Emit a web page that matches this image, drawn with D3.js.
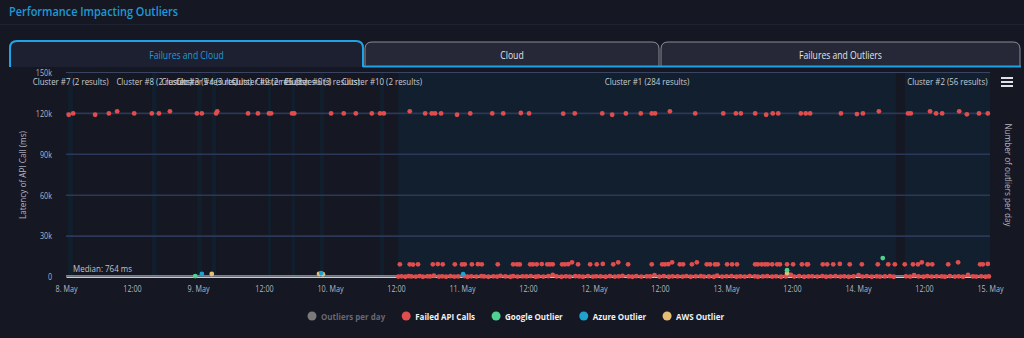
<!DOCTYPE html>
<html>
<head>
<meta charset="utf-8">
<script src="https://cdn.jsdelivr.net/npm/d3@7"></script>
<style>
  body { margin: 0; background: #151722; font-family: "Open Sans", sans-serif; }
  svg { display: block; }
</style>
</head>
<body>
<svg id="chart" width="1024" height="338"></svg>
<script>
'use strict'
// ---- data (hours since 8 May 00:00 UTC, values in ms) ----
var tabNames = ['Failures and Cloud', 'Cloud', 'Failures and Outliers']
var yTicks = [0, 30000, 60000, 90000, 120000, 150000]
var median = 764

var clusterLabels = ['Cluster #7 (2 results)', 'Cluster #8 (2 results)', 'Cluster #3 (5 results)',
  'Cluster #4 (3 results)', 'Cluster #9 (2 results)', 'Cluster #5 (3 results)', 'Cluster #6 (3 results)',
  'Cluster #10 (2 results)', 'Cluster #1 (284 results)', 'Cluster #2 (56 results)']
var clusterFrom = [0.4, 15.6, 23.8, 26.5, 36.7, 41.1, 46.2, 57.1, 60.4, 152.5]
var clusterTo = [1.3, 16.5, 24.7, 27.3, 37.3, 41.6, 46.9, 57.8, 150.9, 168]

var failedTopHours = [0.5, 1.3, 5.3, 7.8, 9.3, 12.4, 15.6, 16.9, 18.9, 23.8, 24.7, 27.3, 27.5, 33.1, 34.9, 36.9,
  37.3, 41.1, 41.5, 48.2, 50.5, 52.7, 55.6, 57.1, 57.8, 62.5, 65.3, 66.5, 67.1, 68.2, 71.1, 73.5, 77.5, 79.5,
  82.7, 84.2, 90.4, 92.5, 97.5, 99.3, 101.8, 104.5, 106.5, 107.1, 109.8, 114.4, 119.5, 121.8, 122.7, 125.3,
  127.3, 128.5, 129.5, 133.6, 134.5, 135.3, 140.9, 143.8, 144.9, 147.8, 153.1, 153.6, 157.1, 158.2, 159.3,
  162.4, 163.8, 166.0, 167.6]
var failedTopValues = [119000, 120000, 119000, 120000, 121500, 120000, 120000, 120000, 121500, 120000, 120000,
  120000, 121500, 120000, 120000, 120000, 120000, 120000, 120000, 120000, 120000, 120000, 120000, 120000, 120000,
  121500, 120000, 120000, 120000, 120000, 119000, 120000, 120000, 120000, 120300, 120000, 119800, 120000,
  120000, 119000, 120000, 120000, 120000, 120000, 121500, 120000, 120000, 120000, 120000, 120000, 119000,
  120000, 120000, 120000, 120000, 120000, 120000, 119500, 120000, 121500, 120000, 120000, 121500, 120000,
  120000, 121500, 119300, 120000, 120000]

var failedMidHours = [60.7, 62.5, 63.1, 64.0, 66.7, 67.6, 68.5, 70.7, 72.0, 72.5, 73.8, 74.9, 75.6, 78.5, 81.3,
  82.0, 82.5, 84.4, 84.9, 85.6, 86.5, 87.5, 88.0, 88.5, 90.2, 90.7, 91.3, 92.0, 93.1, 95.3, 96.5, 97.6, 99.5,
  100.4, 102.2, 106.5, 108.4, 108.9, 109.5, 110.2, 111.6, 112.2, 113.8, 114.7, 116.5, 117.1, 118.0, 118.5,
  120.2, 121.1, 122.0, 125.3, 125.8, 126.5, 127.1, 127.6, 128.4, 129.3, 129.8, 131.1, 132.2, 133.8, 134.7,
  134.9, 137.6, 138.4, 139.5, 140.7, 142.5, 144.7, 147.6, 149.5, 150.7, 152.5, 154.0, 154.9, 155.6, 156.7,
  157.5, 160.4, 162.2, 166.2, 166.7, 167.6]
var failedMidValues = [9300, 9300, 9100, 9300, 9300, 9500, 9300, 9300, 9200, 9300, 9300, 9400, 9300, 9300, 9300,
  9300, 9200, 9300, 9300, 9300, 9500, 9300, 9300, 9300, 9300, 9300, 9400, 10800, 9300, 9300, 9300, 9600, 9300,
  10800, 9300, 9300, 9300, 9300, 9400, 10800, 9300, 9300, 9300, 10800, 9300, 9300, 9200, 9300, 9300, 9300,
  9300, 9300, 9300, 9300, 9300, 9300, 9300, 9300, 9300, 9300, 9300, 9300, 9300, 9300, 9300, 9300, 9300, 9600,
  9300, 9300, 9300, 9300, 9300, 9300, 9300, 9300, 10800, 9300, 9300, 9300, 10800, 9300, 9300, 9600]

var failedLowHours = [60.4, 61.0, 61.7, 62.3, 62.8, 63.6, 64.3, 64.9, 65.7, 66.2, 66.9, 67.8, 68.4, 69.1, 69.9,
  70.6, 71.3, 72.4, 73.0, 73.7, 74.6, 75.5, 76.0, 76.8, 77.7, 78.4, 79.0, 79.9, 80.8, 81.3, 82.1, 83.0, 83.7,
  84.5, 85.4, 85.9, 86.8, 87.7, 88.5, 89.2, 90.1, 90.9, 91.6, 92.6, 93.3, 94.0, 94.9, 95.8, 96.4, 97.2, 98.1,
  98.9, 99.8, 100.5, 101.2, 102.3, 103.0, 103.7, 104.6, 105.6, 106.2, 107.0, 107.9, 108.7, 109.6, 110.3, 111.2,
  112.1, 112.8, 113.6, 114.5, 115.4, 116.0, 116.9, 117.8, 118.4, 119.3, 120.1, 121.0, 121.9, 122.6, 123.4,
  124.3, 125.2, 125.8, 126.7, 127.5, 128.4, 129.1, 130.0, 130.9, 131.8, 132.4, 133.3, 134.2, 135.0, 135.7,
  136.6, 137.5, 138.2, 139.0, 139.9, 140.8, 141.5, 142.3, 143.2, 144.1, 144.8, 145.6, 146.5, 147.4, 148.0,
  148.9, 149.8, 150.5, 152.7, 153.5, 154.2, 155.0, 155.9, 156.6, 157.4, 158.3, 159.2, 159.8, 160.7, 161.6,
  162.3, 163.1, 164.0, 164.9, 165.5, 166.4, 167.2, 167.8]
var failedLowValues = [300, 500, 200, 600, 400, 300, 700, 200, 500, 400, 900, 300, 500, 200, 600, 300, 400, 700,
  200, 500, 300, 600, 400, 200, 500, 300, 800, 400, 200, 600, 300, 500, 400, 700, 200, 500, 300, 600, 1500, 400,
  200, 500, 300, 600, 400, 200, 700, 300, 500, 400, 200, 600, 300, 500, 800, 400, 200, 600, 300, 500, 400, 1400,
  300, 600, 200, 500, 400, 300, 700, 200, 500, 600, 300, 400, 200, 900, 300, 500, 600, 200, 400, 300, 700, 500,
  200, 400, 600, 300, 500, 200, 400, 1500, 300, 600, 200, 400, 500, 300, 700, 200, 400, 600, 300, 500, 200, 400,
  1400, 300, 600, 200, 500, 300, 400, 600, 200, 500, 300, 1300, 400, 200, 600, 300, 500, 400, 200, 700, 300,
  500, 200, 1500, 400, 300, 500, 200, 400]

var googleHours = [23.5, 131.1, 148.5]
var googleValues = [700, 5000, 13900]
var azureHours = [24.7, 46.4, 72.2]
var azureValues = [2200, 2900, 2000]
var awsHours = [26.5, 46.0, 46.7, 131.1]
var awsValues = [2200, 2200, 2000, 2900]

var legendNames = ['Outliers per day', 'Failed API Calls', 'Google Outlier', 'Azure Outlier', 'AWS Outlier']
var legendColors = ['#7a7a7a', '#e04d4d', '#4fd18f', '#1ea3cf', '#e6c072']

// ---- layout ----
var W = 1024
var H = 338
var plot = { left: 66, right: 990, top: 72.5, bottom: 277 }
var base = Date.UTC(2023, 4, 8)
var toDate = function (h) { return new Date(base + h * 3600e3) }

var svg = d3.select('#chart')

// squeeze text horizontally (reference fonts are narrow)
var squeeze = function (sel, k) {
  sel.each(function () {
    var w = this.getComputedTextLength()
    this.setAttribute('textLength', w * k)
    this.setAttribute('lengthAdjust', 'spacingAndGlyphs')
  })
}

svg.append('rect').attr('width', W).attr('height', H).attr('fill', '#151722')

// header
var title = svg.append('text')
  .attr('x', 9).attr('y', 16)
  .attr('fill', '#1e9ad6')
  .attr('font-size', 12).attr('font-weight', 600)
  .text('Performance Impacting Outliers')
squeeze(title, 0.91)
svg.append('rect').attr('x', 0).attr('y', 24).attr('width', W).attr('height', 1).attr('fill', '#1f2230')

// tabs
var tabX = [10, 365, 661]
var tabW = [353, 294, 359]
var tabY = 41
var tabH = 26
var tabPath = function (x, y, w, h, r) {
  return 'M' + x + ',' + (y + h) + 'V' + (y + r) + 'Q' + x + ',' + y + ' ' + (x + r) + ',' + y +
    'H' + (x + w - r) + 'Q' + (x + w) + ',' + y + ' ' + (x + w) + ',' + (y + r) + 'V' + (y + h)
}
tabNames.forEach(function (name, i) {
  var active = i === 0
  svg.append('path')
    .attr('d', tabPath(tabX[i], active ? tabY : tabY + 1, tabW[i], active ? tabH : tabH - 1, 7))
    .attr('fill', active ? '#1d2030' : '#262837')
    .attr('stroke', active ? '#1ea3e6' : '#8a8c96')
    .attr('stroke-width', active ? 2 : 1)
  var t = svg.append('text')
    .attr('x', tabX[i] + tabW[i] / 2).attr('y', 58.5)
    .attr('text-anchor', 'middle')
    .attr('font-size', 10)
    .attr('fill', active ? '#1e9ad6' : '#e2e2e6')
    .text(name)
  squeeze(t, 0.86)
})
svg.append('line')
  .attr('x1', 363).attr('x2', 1021).attr('y1', 66.5).attr('y2', 66.5)
  .attr('stroke', '#1ea3e6').attr('stroke-width', 2)

// scales
var x = d3.scaleUtc().domain([toDate(0), toDate(168)]).range([plot.left, plot.right])
var y = d3.scaleLinear().domain([0, 150000]).range([plot.bottom, plot.top])

// cluster bands
var bands = svg.append('g')
clusterLabels.forEach(function (label, i) {
  var x0 = x(toDate(clusterFrom[i]))
  var x1 = x(toDate(clusterTo[i]))
  bands.append('rect')
    .attr('x', x0).attr('y', plot.top).attr('width', x1 - x0).attr('height', plot.bottom - plot.top)
    .attr('fill', '#11202f').attr('opacity', i >= 8 ? 0.95 : 0.9)
})

// gridlines
svg.append('g').selectAll('line')
  .data(yTicks.filter(function (d) { return d > 0 }))
  .enter().append('line')
  .attr('x1', plot.left).attr('x2', plot.right)
  .attr('y1', function (d) { return y(d) }).attr('y2', function (d) { return y(d) })
  .attr('stroke', function (d) { return d === 150000 ? '#3b4463' : '#2c3858' })
  .attr('stroke-width', function (d) { return d === 150000 ? 1 : 1.6 })

// cluster labels
clusterLabels.forEach(function (label, i) {
  var cx = x(toDate((clusterFrom[i] + clusterTo[i]) / 2))
  var t = svg.append('text')
    .attr('x', cx).attr('y', 85)
    .attr('text-anchor', 'middle')
    .attr('font-size', 9.5)
    .attr('fill', '#c9cbd2')
    .text(label)
  squeeze(t, 0.83)
})

// y axis
var yAxis = svg.append('g')
  .attr('transform', 'translate(' + (plot.left - 11) + ',0)')
  .call(d3.axisLeft(y).tickValues(yTicks).tickSize(0)
    .tickFormat(function (d) { return d ? d / 1000 + 'k' : '0' }))
yAxis.select('.domain').remove()
yAxis.selectAll('text').attr('fill', '#b4b6c0').attr('font-size', 9).attr('font-family', 'Open Sans')
squeeze(yAxis.selectAll('text'), 0.8)

// x axis
var xAxis = svg.append('g')
  .attr('transform', 'translate(0,' + plot.bottom + ')')
  .call(d3.axisBottom(x).ticks(d3.utcHour.every(12)).tickSize(0).tickPadding(9)
    .tickFormat(function (d) { return d.getUTCHours() ? '12:00' : d3.utcFormat('%-d. %b')(d) }))
xAxis.select('.domain').attr('stroke', '#c9ccd6')
xAxis.selectAll('text').attr('fill', '#b4b6c0').attr('font-size', 9).attr('font-family', 'Open Sans')
squeeze(xAxis.selectAll('text'), 0.8)

// median
svg.append('line')
  .attr('x1', plot.left).attr('x2', plot.right)
  .attr('y1', y(median)).attr('y2', y(median))
  .attr('stroke', '#d4d6de').attr('stroke-width', 1)
var med = svg.append('text')
  .attr('x', plot.left + 7).attr('y', y(median) - 4)
  .attr('font-size', 9.5).attr('fill', '#c2c4cc')
  .text('Median: ' + median + ' ms')
squeeze(med, 0.84)

// axis titles
var yt = svg.append('text')
  .attr('transform', 'translate(26,175) rotate(-90)')
  .attr('text-anchor', 'middle').attr('font-size', 9.5).attr('fill', '#b4b6c0')
  .text('Latency of API Call (ms)')
squeeze(yt, 0.86)
var yt2 = svg.append('text')
  .attr('transform', 'translate(1005,175) rotate(90)')
  .attr('text-anchor', 'middle').attr('font-size', 9.5).attr('fill', '#b4b6c0')
  .text('Number of outliers per day')
squeeze(yt2, 0.86)

// hamburger menu
svg.append('g').selectAll('line').data([0, 4, 8]).enter().append('line')
  .attr('x1', 1001).attr('x2', 1013)
  .attr('y1', function (d) { return 78 + d }).attr('y2', function (d) { return 78 + d })
  .attr('stroke', '#e0e0e6').attr('stroke-width', 2)

// points
var drawSeries = function (hours, values, color) {
  svg.append('g').selectAll('circle')
    .data(hours.map(function (h, i) { return { h: h, v: values[i] } }))
    .enter().append('circle')
    .attr('cx', function (d) { return x(toDate(d.h)) })
    .attr('cy', function (d) { return y(d.v) })
    .attr('r', 2.4)
    .attr('fill', color)
}
drawSeries(failedTopHours, failedTopValues, legendColors[1])
drawSeries(failedMidHours, failedMidValues, legendColors[1])
drawSeries(failedLowHours, failedLowValues, legendColors[1])
drawSeries(awsHours, awsValues, legendColors[4])
drawSeries(azureHours, azureValues, legendColors[3])
drawSeries(googleHours, googleValues, legendColors[2])

// legend
var legend = svg.append('g')
var lx = 0
legendNames.forEach(function (name, i) {
  var item = legend.append('g').attr('transform', 'translate(' + lx + ',0)')
  item.append('circle').attr('cx', 0).attr('cy', 0).attr('r', 4.5).attr('fill', legendColors[i])
  var t = item.append('text')
    .attr('x', 9).attr('y', 3.5)
    .attr('font-size', 9.5).attr('font-weight', 700)
    .attr('fill', i === 0 ? '#666872' : '#f2f2f4')
    .text(name)
  squeeze(t, 0.84)
  lx += 9 + +t.attr('textLength') + 21
})
legend.attr('transform', 'translate(312,316)')
</script>
</body>
</html>
